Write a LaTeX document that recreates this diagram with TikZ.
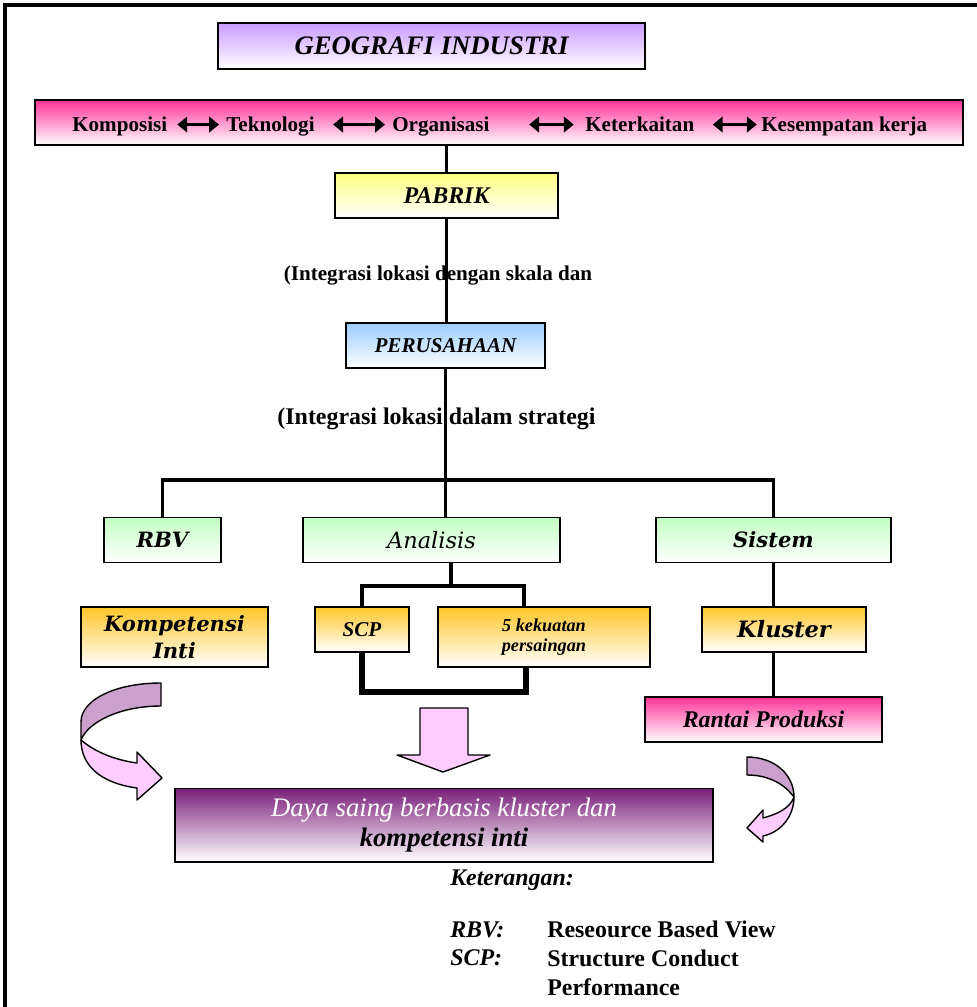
\documentclass[tikz,border=0pt]{standalone}
\usepackage{fontspec}
\setmainfont{Liberation Serif}
\newfontfamily\bkfont{DejaVu Serif}
\usetikzlibrary{arrows.meta,calc,positioning}
\definecolor{geotop}{HTML}{C99BFF}
\definecolor{pinktop}{HTML}{FF3399}
\definecolor{yeltop}{HTML}{FFFF80}
\definecolor{bluetop}{HTML}{99CCFF}
\definecolor{greentop}{HTML}{C2FFC2}
\definecolor{orangetop}{HTML}{FFC628}
\definecolor{dayatop}{HTML}{7A1F7A}
\definecolor{lilac}{HTML}{CCA0CC}
\definecolor{lightpink}{HTML}{FFCCFF}

\begin{document}
\begin{tikzpicture}[x=0.025cm,y=-0.025cm,
box/.style={draw=black,line width=1.4pt,inner sep=2pt,align=center,bottom color=white},
rowbox/.style={box,minimum height=1.125cm},
link/.style={line width=2.6pt},
dbl/.style={{Triangle[length=7pt,width=11pt]}-{Triangle[length=7pt,width=11pt]},line width=2.6pt},
word/.style={font=\fontsize{15}{18}\selectfont\bfseries,inner sep=0pt,text height=2ex,text depth=0pt,anchor=base west},
bk/.style={font=\fontsize{15}{19}\selectfont\bkfont\bfseries\itshape},
legend/.style={font=\fontsize{17}{20}\selectfont\bfseries,inner sep=0pt,anchor=base west,align=left},
ribbon/.style={draw=black,line width=1pt,line join=round}]
\useasboundingbox (0,0) rectangle (977,1007);
% frame
\draw[line width=2.8pt] (5,1007) -- (5,5) -- (977,5);

% top of the chart
\node[box,top color=geotop,minimum width=10.675cm,minimum height=1.15cm,
  font=\fontsize{19}{22}\selectfont\bfseries\itshape] (geo) at (431.5,46) {GEOGRAFI INDUSTRI};
\node[rowbox,top color=pinktop,minimum width=23.2cm] (bar) at (499,122.5) {};
\node[word] (komp) at (72,131) {Komposisi};
\node[word] (tekn) at (226,131) {Teknologi};
\node[word] (orga) at (392,131) {Organisasi};
\node[word] (kete) at (585,131) {Keterkaitan};
\node[word] (kese) at (761,131) {Kesempatan kerja};
\draw[dbl,shorten <=7pt,shorten >=5pt] (komp) -- (tekn);
\draw[dbl,shorten <=13pt,shorten >=5pt] (tekn) -- (orga);
\draw[dbl,shorten <=28pt,shorten >=8pt] (orga) -- (kete);
\draw[dbl,shorten <=13pt,shorten >=3pt] (kete) -- (kese);

\node[rowbox,top color=yeltop,minimum width=5.575cm,
  font=\fontsize{17}{20}\selectfont\bfseries\itshape] (pabrik) at (446.5,195.5) {PABRIK};
\node[rowbox,top color=bluetop,minimum width=4.975cm,
  font=\fontsize{15}{18}\selectfont\bfseries\itshape] (perus) at (445.5,345.5) {PERUSAHAAN};
\draw[link] (bar.south -| pabrik) -- (pabrik.north);
\draw[link] (pabrik.south) -- (pabrik.south |- perus.north);
\node[font=\fontsize{15}{18}\selectfont\bfseries] (lbla) at (438,276) {(Integrasi lokasi dengan skala dan};
\node[font=\fontsize{17}{20}\selectfont\bfseries] (lblb) at (436.5,419) {(Integrasi lokasi dalam strategi};

% second level
\node[rowbox,top color=greentop,minimum width=2.925cm,bk] (rbv) at (162.5,540) {RBV};
\node[rowbox,top color=greentop,minimum width=6.425cm,
  font=\fontsize{16}{19}\selectfont\bkfont\itshape] (analisis) at (431.5,540) {Analisis};
\node[rowbox,top color=greentop,minimum width=5.875cm,bk] (sistem) at (773.5,540) {Sistem};
\coordinate (hub) at (445,480);
\draw[link] (perus.south) -- (perus.south |- analisis.north);
\draw[link] (rbv.north) |- (hub) -| (sistem.north);

\node[box,top color=orangetop,minimum width=4.675cm,minimum height=1.5cm,bk] (kompetensi) at (174.5,637) {Kompetensi\\Inti};
\node[rowbox,top color=orangetop,minimum width=2.35cm,
  font=\fontsize{15}{18}\selectfont\bfseries\itshape] (scp) at (362,629.5) {SCP};
\node[box,top color=orangetop,minimum width=5.3cm,minimum height=1.5cm,
  font=\fontsize{13}{14}\selectfont\bfseries\itshape] (kekuatan) at (544,637) {5 kekuatan\\persaingan};
\node[rowbox,top color=orangetop,minimum width=4.1cm,
  font=\fontsize{16}{19}\selectfont\bkfont\bfseries\itshape] (kluster) at (784,629.5) {Kluster};
\node[rowbox,top color=pinktop,minimum width=5.925cm,
  font=\fontsize{17}{20}\selectfont\bfseries\itshape] (rantai) at (763.5,719.5) {Rantai Produksi};

\coordinate (fork) at (451,586);
\coordinate (lowbar) at (0,692);
\coordinate (kn) at ($(kekuatan.north)+(-20,0)$);
\coordinate (ks) at ($(kekuatan.south)+(-18,0)$);
\draw[link] (analisis.south -| fork) -- (fork);
\draw[link] (scp.north) |- (kn |- fork) -- (kn);
\draw[link,line width=3.6pt] (scp.south) -- (scp.south |- lowbar) -| (ks);
\draw[link] (sistem.south) -- (sistem.south |- kluster.north);
\draw[link] (kluster.south -| sistem) -- (rantai.north -| sistem);

% result
\node[box,top color=dayatop,minimum width=13.45cm,minimum height=1.825cm,
  font=\fontsize{19}{21}\selectfont\itshape] (daya) at (444,825)
  {\textcolor{white}{Daya saing berbasis kluster dan}\\\textbf{kompetensi inti}};

% block arrows
\draw[ribbon,fill=lightpink] (420,708) -- (468,708) -- (468,755) -- (490,755)
  -- (443,772) -- (397,755) -- (420,755) -- cycle;
\draw[ribbon,fill=lilac] (161,683) .. controls (115,683) and (81,700) .. (81,722)
  -- (81,740) .. controls (88,722) and (120,706) .. (161,706) -- cycle;
\draw[ribbon,fill=lightpink] (81,740) .. controls (95,752) and (115,760) .. (137,763)
  -- (137,752) -- (162,778) -- (137,800) -- (137,788)
  .. controls (100,783) and (81,765) .. (81,740) -- cycle;
\draw[ribbon,fill=lilac] (747,757) .. controls (775,757) and (794,775) .. (794,797)
  .. controls (785,785) and (770,775) .. (747,775) -- cycle;
\draw[ribbon,fill=lightpink] (794,797) .. controls (794,815) and (782,832) .. (763,836)
  -- (763,842) -- (747,828) -- (763,810) -- (763,818)
  .. controls (778,814) and (790,808) .. (794,797) -- cycle;

% legend
\node[legend] (ket) at (450,885) {\itshape Keterangan:};
\node[legend] (rbvk) at (450,937) {\itshape RBV:};
\node[legend] (rbvv) at (547,937) {Reseource Based View};
\node[legend] (scpk) at (450,965) {\itshape SCP:};
\node[legend,anchor=north west] (scpv) at (547,950) {Structure Conduct\\Performance};
\end{tikzpicture}
\end{document}
